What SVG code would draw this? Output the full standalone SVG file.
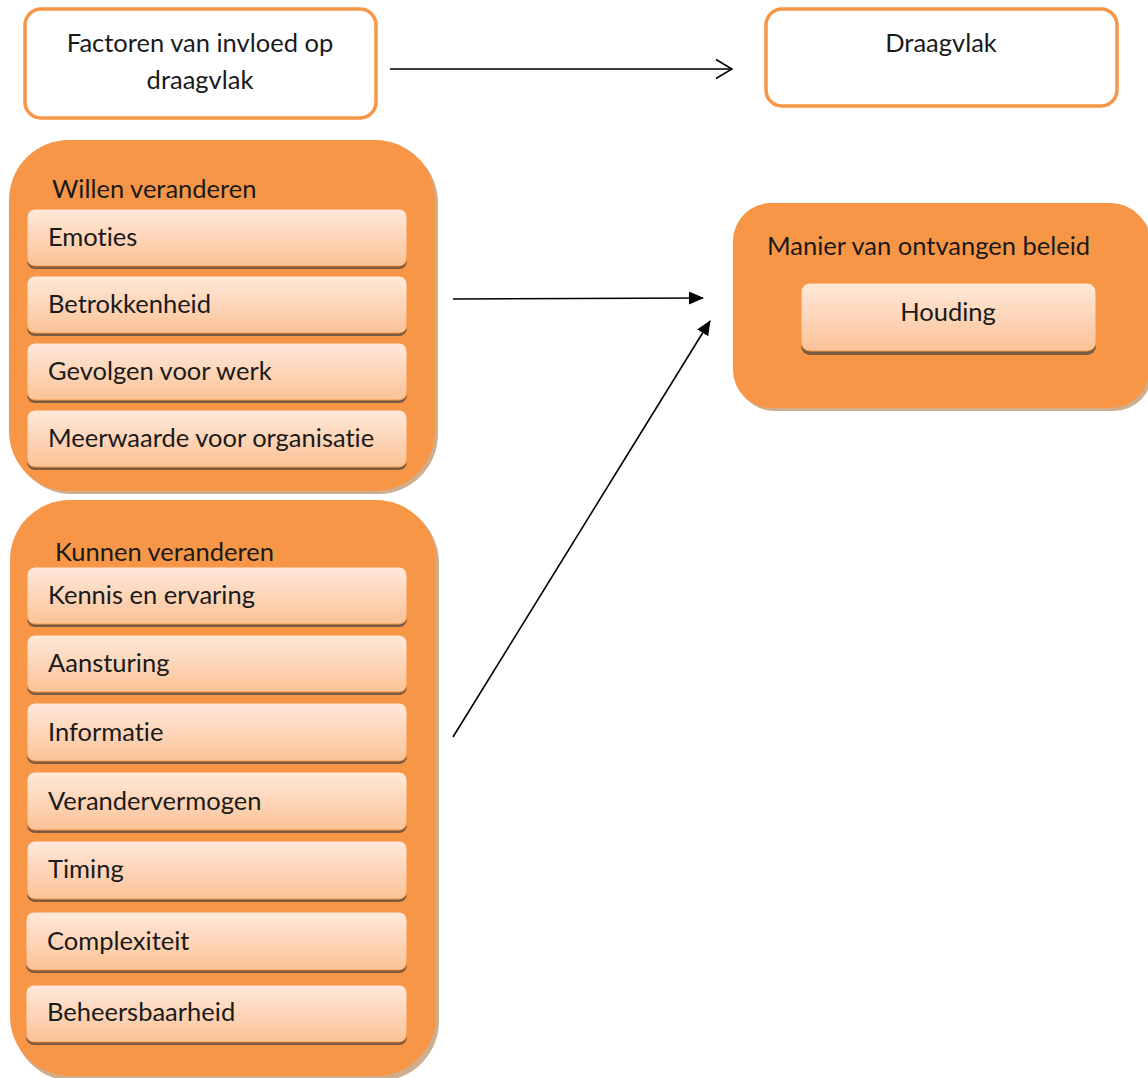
<svg xmlns="http://www.w3.org/2000/svg" width="1148" height="1078" viewBox="0 0 1148 1078">
<defs>
<linearGradient id="g" x1="0" y1="0" x2="0" y2="1">
<stop offset="0" stop-color="#FFE9DA"/>
<stop offset="1" stop-color="#FBC296"/>
</linearGradient>
<marker id="open" viewBox="0 0 18 22" refX="17" refY="11" markerWidth="18" markerHeight="22" markerUnits="userSpaceOnUse" orient="auto">
<path d="M1,1.5 L17,11 L1,20.5" fill="none" stroke="#000" stroke-width="1.6"/>
</marker>
<marker id="solid" viewBox="0 0 15 14" refX="14" refY="7" markerWidth="15" markerHeight="14" markerUnits="userSpaceOnUse" orient="auto">
<path d="M0,0.5 L15,7 L0,13.5 Z" fill="#000"/>
</marker>
</defs>
<style>
text{font-family:Lato,"Liberation Sans",sans-serif;fill:#1a1a1a;font-size:25.5px;font-variant-ligatures:none}
.hdr{fill:#fff;stroke:#F79646;stroke-width:3.5}
.grp{fill:#F79646}
.gsh{fill:#CFAE8E}
.item{fill:url(#g);stroke:#F79646;stroke-width:1}
.ish{fill:#7a5a40}
.c{stroke:#000;stroke-width:1.6;fill:none}
</style>
<g id="factoren">
<rect class="hdr" x="25" y="9" width="351" height="109" rx="16"/>
<text x="200" y="52" text-anchor="middle">Factoren van invloed op</text>
<text x="200" y="89" text-anchor="middle">draagvlak</text>
</g>
<g id="draagvlak">
<rect class="hdr" x="766" y="9" width="351" height="97" rx="16"/>
<text x="941" y="52" text-anchor="middle">Draagvlak</text>
</g>
<g id="willen">
<rect class="gsh" x="12" y="143" width="426" height="351" rx="60"/>
<rect class="grp" x="9" y="140" width="426" height="351" rx="60"/>
<text x="52" y="198">Willen veranderen</text>
</g>
<g id="emoties"><rect class="ish" x="27" y="211" width="380" height="58" rx="8"/><rect class="item" x="27" y="209" width="380" height="57" rx="8"/><text x="48" y="246">Emoties</text></g>
<g id="betrokkenheid"><rect class="ish" x="27" y="278" width="380" height="58" rx="8"/><rect class="item" x="27" y="276" width="380" height="57" rx="8"/><text x="48" y="313">Betrokkenheid</text></g>
<g id="gevolgen"><rect class="ish" x="27" y="345" width="380" height="58" rx="8"/><rect class="item" x="27" y="343" width="380" height="57" rx="8"/><text x="48" y="380">Gevolgen voor werk</text></g>
<g id="meerwaarde"><rect class="ish" x="27" y="412" width="380" height="58" rx="8"/><rect class="item" x="27" y="410" width="380" height="57" rx="8"/><text x="48" y="447">Meerwaarde voor organisatie</text></g>
<g id="kunnen">
<rect class="gsh" x="13" y="503" width="426" height="578" rx="60"/>
<rect class="grp" x="10" y="500" width="426" height="576" rx="60"/>
<text x="55" y="561">Kunnen veranderen</text>
</g>
<g id="kennis"><rect class="ish" x="27" y="569" width="380" height="58" rx="8"/><rect class="item" x="27" y="567" width="380" height="57" rx="8"/><text x="48" y="604">Kennis en ervaring</text></g>
<g id="aansturing"><rect class="ish" x="27" y="637" width="380" height="58" rx="8"/><rect class="item" x="27" y="635" width="380" height="57" rx="8"/><text x="48" y="672">Aansturing</text></g>
<g id="informatie"><rect class="ish" x="27" y="705" width="380" height="59" rx="8"/><rect class="item" x="27" y="703" width="380" height="58" rx="8"/><text x="48" y="741">Informatie</text></g>
<g id="verandervermogen"><rect class="ish" x="27" y="774" width="380" height="59" rx="8"/><rect class="item" x="27" y="772" width="380" height="58" rx="8"/><text x="48" y="810">Verandervermogen</text></g>
<g id="timing"><rect class="ish" x="27" y="843" width="380" height="59" rx="8"/><rect class="item" x="27" y="841" width="380" height="58" rx="8"/><text x="48" y="878">Timing</text></g>
<g id="complexiteit"><rect class="ish" x="26" y="914" width="381" height="59" rx="8"/><rect class="item" x="26" y="912" width="381" height="58" rx="8"/><text x="47" y="950">Complexiteit</text></g>
<g id="beheersbaarheid"><rect class="ish" x="26" y="987" width="381" height="58" rx="8"/><rect class="item" x="26" y="985" width="381" height="57" rx="8"/><text x="47" y="1021">Beheersbaarheid</text></g>
<g id="manier">
<rect class="gsh" x="736" y="206" width="416" height="205" rx="38"/>
<rect class="grp" x="733" y="203" width="416" height="205" rx="38"/>
<text x="767" y="255">Manier van ontvangen beleid</text>
</g>
<g id="houding"><rect class="ish" x="801" y="286" width="295" height="69" rx="9"/><rect class="item" x="801" y="283" width="295" height="68" rx="9"/><text x="948" y="321" text-anchor="middle">Houding</text></g>
<g id="connectors">
<line class="c" x1="390" y1="69" x2="732" y2="69" marker-end="url(#open)"/>
<line class="c" x1="453" y1="299" x2="703" y2="298" marker-end="url(#solid)"/>
<line class="c" x1="453" y1="737" x2="710" y2="321" marker-end="url(#solid)"/>
</g>
</svg>
